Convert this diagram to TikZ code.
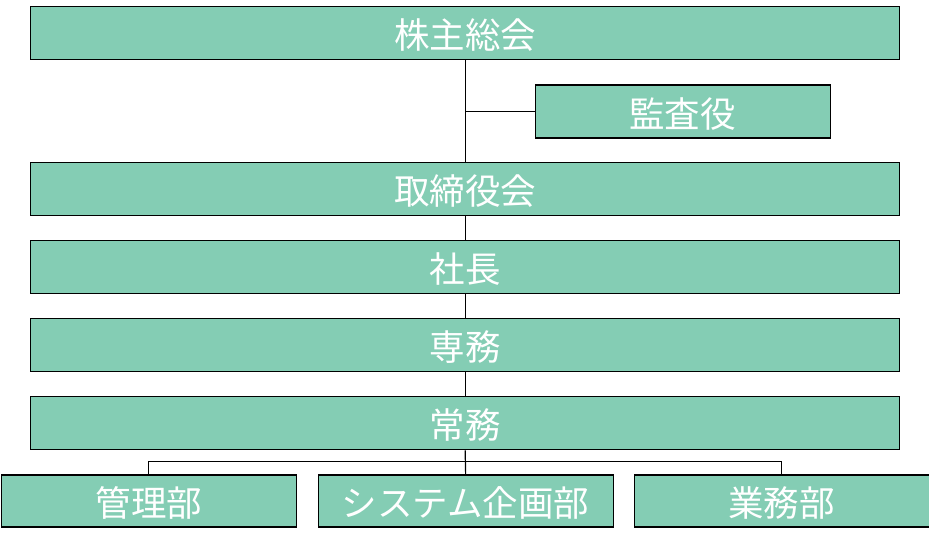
\documentclass[tikz,border=0pt]{standalone}
\usepackage{fontspec}
\newfontfamily\cjk{Noto Sans CJK JP}
\definecolor{boxgreen}{HTML}{84CDB4}
\tikzset{
  orgbox/.style={draw=black, line width=1.3pt, fill=boxgreen, text=white,
    font=\cjk\fontsize{35.5}{40}\selectfont, inner sep=0pt, anchor=north west,
    text height=33pt, text depth=2pt},
  link/.style={draw=black, line width=1.2pt}
}
\begin{document}
\begin{tikzpicture}[x=1pt,y=-1pt]
\useasboundingbox (0,0) rectangle (929,545);
\node[orgbox, minimum width=869pt, minimum height=53pt] (kabu) at (30,6) {株主総会};
\node[orgbox, minimum width=295pt, minimum height=53pt] (kansa) at (534.5,84.5) {監査役};
\node[orgbox, minimum width=869pt, minimum height=53pt] (tori) at (30,162) {取締役会};
\node[orgbox, minimum width=869pt, minimum height=53pt] (shacho) at (30,240) {社長};
\node[orgbox, minimum width=869pt, minimum height=53pt] (senmu) at (30,318) {専務};
\node[orgbox, minimum width=869pt, minimum height=53pt] (jomu) at (30,396) {常務};
\node[orgbox, minimum width=295pt, minimum height=52pt] (kanri) at (0.7,474.3) {管理部};
\node[orgbox, minimum width=295pt, minimum height=52pt] (sys) at (317.5,474.3) {システム企画部};
\node[orgbox, minimum width=295pt, minimum height=52pt] (gyomu) at (633.5,474.3) {業務部};
\coordinate (bus) at (464.5,461.3);
\draw[link] (kabu.south) -- (tori.north);
\draw[link] (kabu.south |- kansa.west) -- (kansa.west);
\draw[link] (tori.south) -- (shacho.north);
\draw[link] (shacho.south) -- (senmu.north);
\draw[link] (senmu.south) -- (jomu.north);
\draw[link] (jomu.south) -- (sys.north);
\draw[link] (kanri.north) -- (kanri.north |- bus) -- (gyomu.north |- bus) -- (gyomu.north);
\end{tikzpicture}
\end{document}
